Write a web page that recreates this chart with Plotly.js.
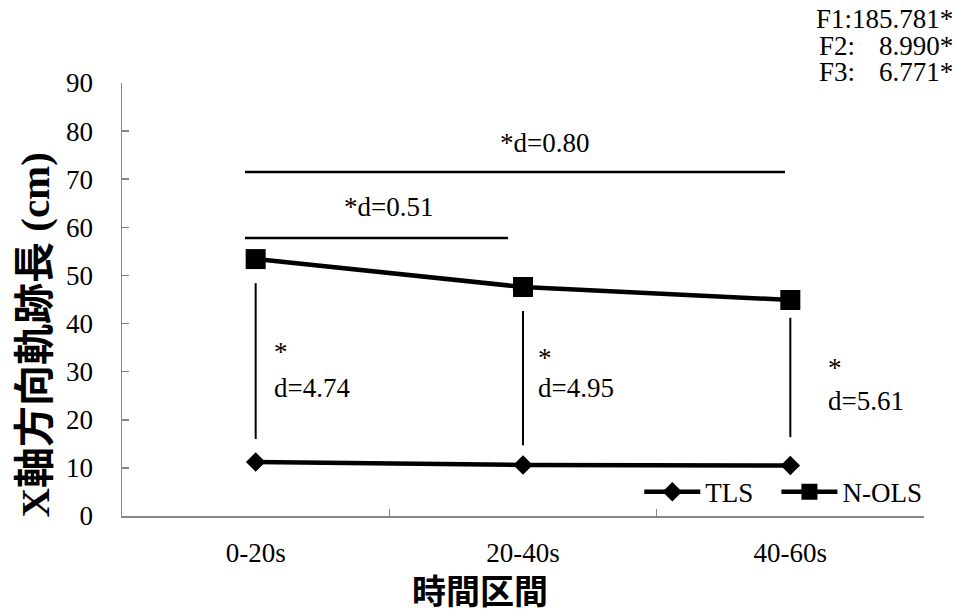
<!DOCTYPE html>
<html>
<head>
<meta charset="utf-8">
<script src="https://cdn.plot.ly/plotly-3.0.1.min.js"></script>
<style>
  html, body { margin: 0; padding: 0; background: #ffffff; }
  #chart { width: 959px; height: 616px; }
</style>
</head>
<body>
<div id="chart"></div>
<script>
// Time windows and mean X-direction path length (cm) per group
const intervals = ["0-20s", "20-40s", "40-60s"];
const tlsValues = [11.2, 10.6, 10.5];
const nolsValues = [53.4, 47.6, 44.9];
const seriesNames = ["TLS", "N-OLS"];

// Axis titles
const xTitle = "時間区間";
const yTitle = "X軸方向軌跡長 (cm)";

// Statistics text
const fStats = [["F1:", "185.781*"], ["F2:", "8.990*"], ["F3:", "6.771*"]];
const betweenGroupD = ["d=4.74", "d=4.95", "d=5.61"];
const withinGroupD = ["*d=0.51", "*d=0.80"];

const serif = "Times New Roman, Liberation Serif, DejaVu Serif, serif";
const titleFont = "Times New Roman, Liberation Serif, Noto Sans CJK JP, serif";
const axisGrey = "#878787";
const fs = 27;

const traces = [
  {
    x: intervals, y: tlsValues, name: seriesNames[0], legend: "legend",
    type: "scatter", mode: "lines+markers",
    line: { color: "#000000", width: 4.5 },
    marker: { symbol: "diamond", size: 15, color: "#000000" }
  },
  {
    x: intervals, y: nolsValues, name: seriesNames[1], legend: "legend2",
    type: "scatter", mode: "lines+markers",
    line: { color: "#000000", width: 4.5 },
    marker: { symbol: "square", size: 20, color: "#000000" }
  }
];

const shapes = [
  // comparison brackets between time windows
  { type: "line", xref: "x", yref: "y", x0: -0.04, x1: 1.98, y0: 71.5, y1: 71.5, line: { color: "#000", width: 2.5 } },
  { type: "line", xref: "x", yref: "y", x0: -0.04, x1: 0.944, y0: 57.8, y1: 57.8, line: { color: "#000", width: 2.5 } },
  // group difference markers within each window
  { type: "line", xref: "x", yref: "y", x0: 0, x1: 0, y0: 16.0, y1: 48.4, line: { color: "#000", width: 2 } },
  { type: "line", xref: "x", yref: "y", x0: 1, x1: 1, y0: 14.7, y1: 42.6, line: { color: "#000", width: 2 } },
  { type: "line", xref: "x", yref: "y", x0: 2, x1: 2, y0: 16.4, y1: 41.2, line: { color: "#000", width: 2 } }
];

const txt = (text, x, y, xanchor, extra) => Object.assign({
  text: text, x: x, y: y, xref: "x", yref: "y",
  xanchor: xanchor, yanchor: "middle", showarrow: false,
  font: { family: serif, size: fs, color: "#000" }
}, extra || {});

const annotations = [
  txt(withinGroupD[1], 1.082, 77.6, "center"),
  txt(withinGroupD[0], 0.495, 64.3, "center"),
  txt("*", 0.06, 34.0, "left", { height: 26 }),
  txt(betweenGroupD[0], 0.06, 26.6, "left", { height: 26 }),
  txt("*", 1.05, 32.9, "left", { height: 26 }),
  txt(betweenGroupD[1], 1.05, 26.6, "left", { height: 26 }),
  txt("*", 2.135, 30.8, "left", { height: 26 }),
  txt(betweenGroupD[2], 2.135, 23.9, "left", { height: 26 }),
  // axis titles
  txt(xTitle, 0.446, -0.176, "center", {
    xref: "paper", yref: "paper",
    font: { family: titleFont, size: 34, color: "#000", weight: "bold" }
  }),
  txt(yTitle, -0.109, 0.418, "center", {
    xref: "paper", yref: "paper", textangle: -90,
    font: { family: titleFont, size: 41, color: "#000", weight: "bold" }
  })
];

// F statistics block, upper right
const fRows = [1.148, 1.085, 1.025];
const fBox = { xref: "paper", yref: "paper", height: 24 };
annotations.push(txt(fStats[0][0] + fStats[0][1], 1.0387, fRows[0], "right", fBox));
fStats.slice(1).forEach((row, i) => {
  annotations.push(txt(row[0], 0.8666, fRows[i + 1], "left", fBox));
  annotations.push(txt(row[1], 1.0387, fRows[i + 1], "right", fBox));
});

const legendBase = {
  orientation: "h", y: 0.055, xanchor: "left", yanchor: "middle",
  bgcolor: "rgba(0,0,0,0)", font: { family: serif, size: fs, color: "#000" },
  itemwidth: 56
};

const layout = {
  width: 959, height: 616,
  font: { family: serif },
  margin: { l: 122, r: 35, t: 83, b: 100, autoexpand: false },
  paper_bgcolor: "#ffffff", plot_bgcolor: "#ffffff",
  showlegend: true,
  legend: Object.assign({ x: 0.645 }, legendBase),
  legend2: Object.assign({ x: 0.816 }, legendBase),
  xaxis: {
    type: "category", range: [-0.5, 2.5],
    showline: true, linecolor: axisGrey, linewidth: 1.5,
    ticks: "inside", tickson: "boundaries", ticklen: 7, tickcolor: axisGrey, tickwidth: 1.5,
    showgrid: false, zeroline: false, automargin: false,
    tickfont: { family: serif, size: fs, color: "#000" },
    ticklabelstandoff: 12
  },
  yaxis: {
    range: [0, 90], dtick: 10,
    showline: true, linecolor: axisGrey, linewidth: 1.5,
    ticks: "inside", ticklen: 7, tickcolor: axisGrey, tickwidth: 1.5,
    showgrid: false, zeroline: false, automargin: false,
    tickfont: { family: serif, size: fs, color: "#000" },
    ticklabelstandoff: 22
  },
  shapes: shapes,
  annotations: annotations
};

Plotly.newPlot("chart", traces, layout, { staticPlot: true, displayModeBar: false });
</script>
</body>
</html>
